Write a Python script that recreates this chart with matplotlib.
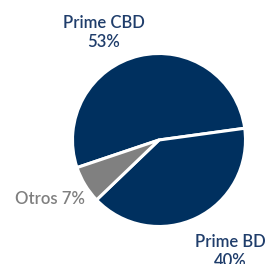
import matplotlib
matplotlib.use("Agg")
import matplotlib.pyplot as plt

categories = ["Prime CBD", "Prime BD", "Otros"]
values = [53, 40, 7]
colors = ["#00305F", "#00305F", "#808080"]
label_colors = ["#1F3D6B", "#1F3D6B", "#7F7F7F"]

fig = plt.figure(figsize=(2.68, 2.64), dpi=100)
ax = fig.add_axes([0, 0, 1, 1])

ax.pie(values, colors=colors, startangle=198.6, counterclock=False,
       center=(159, 124), radius=86.5,
       wedgeprops=dict(edgecolor="white", linewidth=2.2), frame=True)
ax.set_xlim(0, 268)
ax.set_ylim(0, 264)
ax.set_aspect("equal")
ax.axis("off")

font = "Lato"
fs = 12
fw = "semibold"
kw = dict(ha="center", va="baseline", fontsize=fs, family=font, fontweight=fw)
ax.text(103.5, 235.7, categories[0], color=label_colors[0], **kw)
ax.text(103.5, 217.3, f"{values[0]}%", color=label_colors[0], **kw)
ax.text(230, 17, categories[1], color=label_colors[1], **kw)
ax.text(230, -1.5, f"{values[1]}%", color=label_colors[1], **kw)
ax.text(50, 60, f"{categories[2]} {values[2]}%", color=label_colors[2], **kw)

fig.savefig("out.png", dpi=100)
